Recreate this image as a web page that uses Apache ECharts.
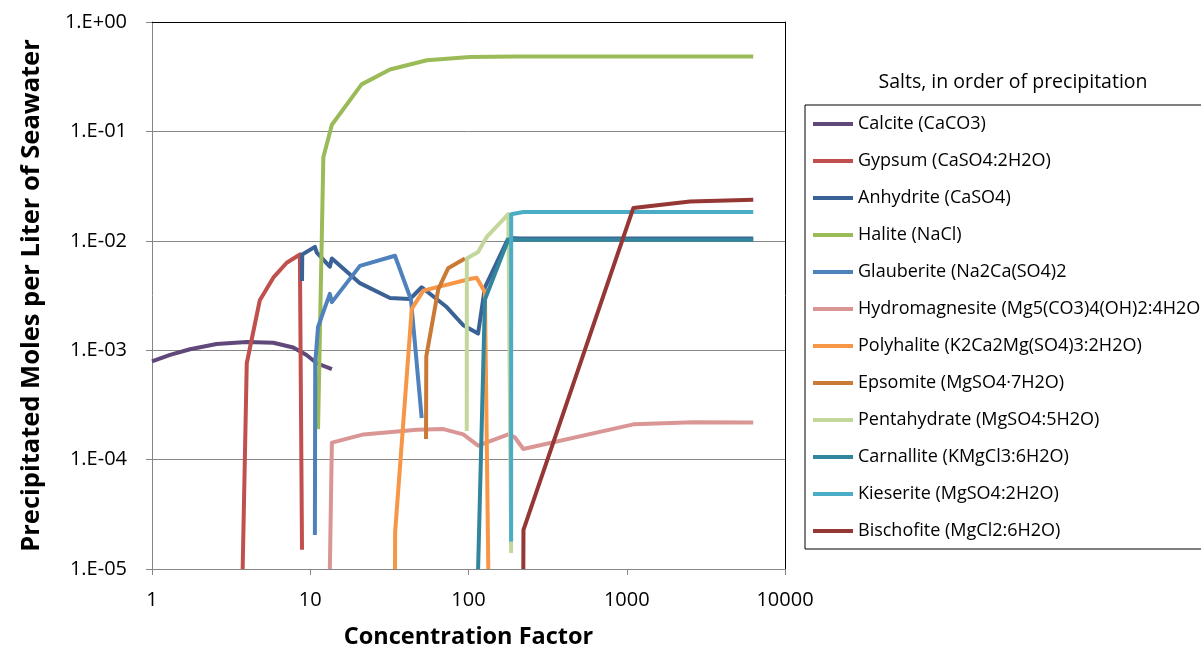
<!DOCTYPE html>
<html>
<head>
<meta charset="utf-8">
<title>Salts precipitated from evaporating seawater</title>
<script src="https://cdn.jsdelivr.net/npm/echarts@6/dist/echarts.min.js"></script>
<style>
  html, body { margin: 0; padding: 0; background: #fff; }
  #chart { width: 1201px; height: 654px; }
</style>
</head>
<body>
<div id="chart"></div>
<script>
// Precipitated moles per liter of seawater vs. concentration factor, one [factor, moles] list per salt
const calcite = [[1.0, 7.9e-4], [1.3, 9.05e-4], [1.74, 1.02e-3], [2.56, 1.14e-3], [3.97, 1.19e-3],
  [5.84, 1.17e-3], [7.81, 1.06e-3], [9.47, 9.05e-4], [11.0, 7.6e-4], [13.7, 6.7e-4]];
const gypsum = [[3.74, 1e-5], [3.97, 7.6e-4], [4.8, 2.86e-3], [5.84, 4.6e-3], [7.1, 6.3e-3],
  [8.6, 7.5e-3], [8.87, 1.5e-5]];
const anhydrite = [[8.87, 4.3e-3], [8.9, 7.5e-3], [10.7, 8.8e-3], [11.0, 7.8e-3], [13.3, 5.8e-3],
  [13.7, 6.9e-3], [20.6, 4.1e-3], [31.9, 3.0e-3], [42.7, 2.94e-3], [50.6, 3.76e-3], [72.8, 2.48e-3],
  [92.7, 1.69e-3], [115, 1.42e-3], [127, 3.76e-3], [178.6, 1.06e-2], [215, 1.05e-2], [6300, 1.05e-2]];
const halite = [[11.2, 1.9e-4], [12.1, 0.058], [13.7, 0.115], [21.1, 0.269], [31.9, 0.368],
  [54.5, 0.447], [102, 0.479], [200, 0.484], [6300, 0.485]];
const glauberite = [[10.7, 2.05e-5], [10.75, 7.6e-4], [11.2, 1.63e-3], [12.4, 2.48e-3], [13.3, 3.27e-3],
  [13.7, 2.75e-3], [20.6, 5.9e-3], [34.3, 7.3e-3], [43.3, 2.9e-3], [50.6, 2.4e-4]];
const hydromagnesite = [[13.3, 1e-5], [13.7, 1.43e-4], [21.7, 1.7e-4], [47.1, 1.87e-4], [69.4, 1.9e-4],
  [92.7, 1.7e-4], [115, 1.34e-4], [178.6, 1.7e-4], [196, 1.6e-4], [222, 1.25e-4], [1100, 2.1e-4],
  [2640, 2.2e-4], [6300, 2.18e-4]];
const polyhalite = [[34.3, 1e-5], [34.4, 2.2e-5], [43.8, 2.39e-3], [51.8, 3.5e-3], [102, 4.47e-3],
  [112.5, 4.6e-3], [127, 3.4e-3], [133.4, 1e-5]];
const epsomite = [[53.9, 1.54e-4], [54.1, 8.8e-4], [64.4, 3.6e-3], [74.3, 5.6e-3], [95, 6.9e-3]];
const pentahydrate = [[97.5, 1.83e-4], [97.6, 6.9e-3], [115, 7.9e-3], [130, 1.08e-2], [178.6, 1.75e-2],
  [186, 1.4e-5]];
const carnallite = [[115, 1e-5], [127, 2.9e-3], [178.6, 1.03e-2], [215, 1.02e-2], [6300, 1.02e-2]];
const kieserite = [[186, 1.78e-5], [186.1, 1.75e-2], [222, 1.83e-2], [6300, 1.83e-2]];
const bischofite = [[222, 1e-5], [222.5, 2.28e-5], [1100, 1.99e-2], [2510, 2.29e-2], [6300, 2.37e-2]];

const saltNames = [
  'Calcite (CaCO3)', 'Gypsum (CaSO4:2H2O)', 'Anhydrite (CaSO4)', 'Halite (NaCl)',
  'Glauberite (Na2Ca(SO4)2', 'Hydromagnesite (Mg5(CO3)4(OH)2:4H2O)', 'Polyhalite (K2Ca2Mg(SO4)3:2H2O)',
  'Epsomite (MgSO4·7H2O)', 'Pentahydrate (MgSO4:5H2O)', 'Carnallite (KMgCl3:6H2O)',
  'Kieserite (MgSO4:2H2O)', 'Bischofite (MgCl2:6H2O)'
];
const saltData = [calcite, gypsum, anhydrite, halite, glauberite, hydromagnesite, polyhalite,
  epsomite, pentahydrate, carnallite, kieserite, bischofite];
const saltColors = ['#60497A', '#C0504D', '#3A6296', '#9BBB59', '#4F81BD', '#D99694', '#F79646',
  '#CB7A36', '#C3D69B', '#31859C', '#4BACC6', '#953735'];

const FONT = '"Open Sans", "Noto Sans", sans-serif';

const chart = echarts.init(document.getElementById('chart'), null, { renderer: 'canvas' });

function sciLabel(v) {
  const e = Math.round(Math.log10(v));
  const s = e < 0 ? '-' : '+';
  const a = Math.abs(e);
  return '1.E' + s + (a < 10 ? '0' + a : String(a));
}

const series = saltNames.map((name, i) => ({
  name: name,
  type: 'line',
  data: saltData[i],
  xAxisIndex: 0,
  yAxisIndex: 0,
  symbol: 'none',
  smooth: false,
  color: saltColors[i],
  lineStyle: { width: 4, color: saltColors[i], join: 'round' },
  emphasis: { disabled: true }
}));

chart.setOption({
  animation: false,
  backgroundColor: '#fff',
  textStyle: { fontFamily: FONT },
  grid: { left: 152, right: 416, top: 22, bottom: 80, containLabel: false },
  title: {
    text: 'Salts, in order of precipitation',
    left: 1008,
    top: 67,
    textAlign: 'center',
    textStyle: { fontFamily: FONT, fontSize: 19.5, fontWeight: 'normal', color: '#000' }
  },
  legend: {
    orient: 'vertical',
    left: 805,
    top: 105,
    padding: [8, 12, 7, 8],
    itemGap: 15,
    itemWidth: 40,
    itemHeight: 4,
    icon: 'rect',
    selectedMode: false,
    borderColor: '#000',
    borderWidth: 1,
    data: saltNames,
    textStyle: { fontFamily: FONT, fontSize: 18, color: '#000', lineHeight: 22 }
  },
  xAxis: [{
    type: 'log',
    logBase: 10,
    min: 1,
    max: 10000,
    name: 'Concentration Factor',
    nameLocation: 'middle',
    nameGap: 56,
    nameTextStyle: { fontFamily: FONT, fontSize: 23.5, fontWeight: 'bold', color: '#000' },
    axisLine: { show: true, lineStyle: { color: '#868686', width: 1 } },
    axisTick: { show: true, inside: false, length: 6, lineStyle: { color: '#868686' } },
    minorTick: { show: false },
    axisLabel: { margin: 21, fontSize: 20, color: '#000', fontFamily: FONT,
      formatter: v => String(Math.round(v)) },
    splitLine: { show: false }
  }, {
    type: 'log',
    logBase: 10,
    min: 1,
    max: 10000,
    position: 'top',
    axisLine: { show: true, lineStyle: { color: '#000', width: 1 } },
    axisTick: { show: false },
    axisLabel: { show: false },
    splitLine: { show: false }
  }],
  yAxis: [{
    type: 'log',
    logBase: 10,
    min: 1e-5,
    max: 1,
    name: 'Precipitated Moles per Liter of Seawater',
    nameLocation: 'middle',
    nameGap: 107,
    nameTextStyle: { fontFamily: FONT, fontSize: 25.5, fontWeight: 'bold', color: '#000' },
    axisLine: { show: true, lineStyle: { color: '#868686', width: 1 } },
    axisTick: { show: true, inside: false, length: 6, lineStyle: { color: '#868686' } },
    axisLabel: { margin: 25, fontSize: 20, color: '#000', fontFamily: FONT, formatter: sciLabel },
    splitLine: { show: true, lineStyle: { color: '#878787', width: 1 } }
  }, {
    type: 'log',
    logBase: 10,
    min: 1e-5,
    max: 1,
    position: 'right',
    axisLine: { show: true, lineStyle: { color: '#000', width: 1 } },
    axisTick: { show: false },
    axisLabel: { show: false },
    splitLine: { show: false }
  }],
  series: series
});
</script>
</body>
</html>
